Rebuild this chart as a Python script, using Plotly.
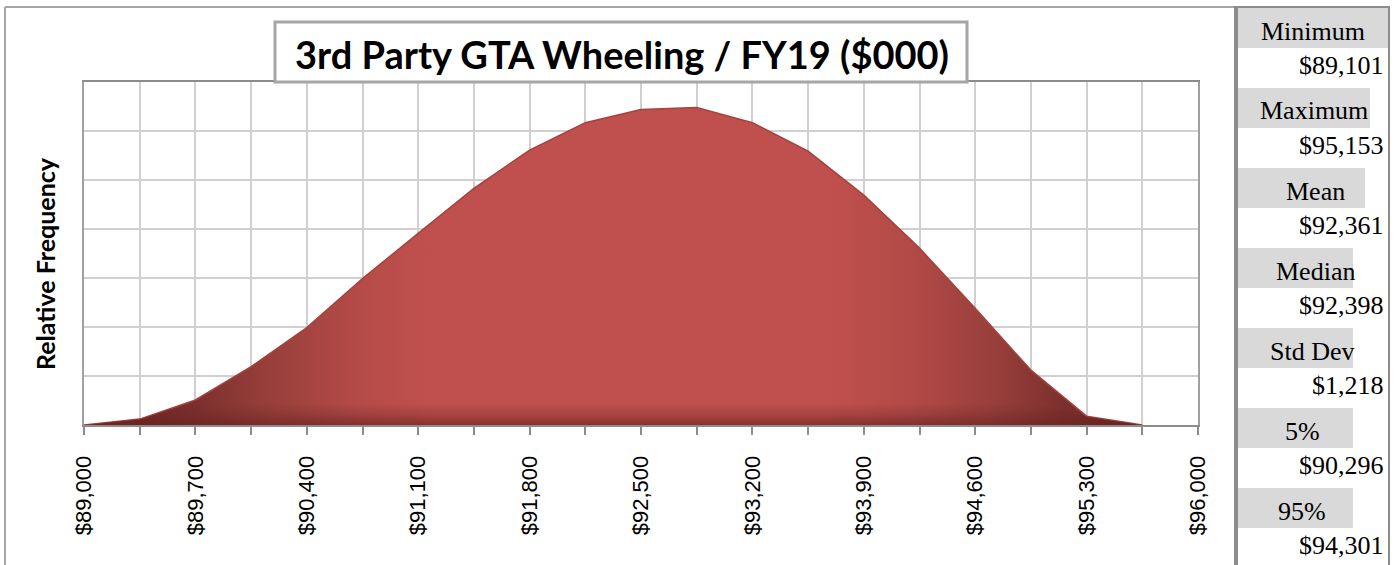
import plotly.graph_objects as go

# ---------------- data ----------------
bins = [89000, 89350, 89700, 90050, 90400, 90750, 91100, 91450, 91800, 92150,
        92500, 92850, 93200, 93550, 93900, 94250, 94600, 94950, 95300, 95650]
freq = [0.0000, 0.0012, 0.0051, 0.0119, 0.0199, 0.0299, 0.0391, 0.0483, 0.0561, 0.0617,
        0.0644, 0.0648, 0.0617, 0.0559, 0.0469, 0.0361, 0.0238, 0.0112, 0.0018, 0.0000]
tick_vals = [89000, 89700, 90400, 91100, 91800, 92500, 93200, 93900, 94600, 95300, 96000]
tick_text = ["$89,000", "$89,700", "$90,400", "$91,100", "$91,800", "$92,500",
             "$93,200", "$93,900", "$94,600", "$95,300", "$96,000"]
stat_labels = ["Minimum", "Maximum", "Mean", "Median", "Std Dev", "5%", "95%"]
stat_values = ["$89,101", "$95,153", "$92,361", "$92,398", "$1,218", "$90,296", "$94,301"]
title_text = "3rd Party GTA Wheeling / FY19 ($000)"
y_title = "Relative Frequency"

# ---------------- geometry ----------------
W, H = 1395, 565
PL, PR, PT, PB = 84, 1198, 82, 425


def X(px):
    return (px - PL) / (PR - PL)


def Y(py):
    return (PB - py) / (PB - PT)


fig = go.Figure()
# main area with darker tails (shading)
fig.add_trace(go.Scatter(
    x=bins, y=freq, mode="lines",
    line=dict(width=1.5, color="#a3423f", shape="linear"),
    fill="tozeroy",
    fillgradient=dict(type="horizontal", start=bins[0], stop=bins[-1],
                      colorscale=[[0, "#6a2422"], [0.1, "#7a2f2c"], [0.18, "#9a403c"],
                                  [0.26, "#b54b48"], [0.33, "#c0504d"], [0.7, "#c0504d"],
                                  [0.78, "#b34a47"], [0.86, "#983f3c"], [0.93, "#7a2f2c"],
                                  [1, "#6a2422"]]),
    hoverinfo="skip", showlegend=False,
))
# bottom shading band (same outline, clipped low)
shade_h = 0.0045
fig.add_trace(go.Scatter(
    x=bins, y=[min(f, shade_h) for f in freq], mode="lines",
    line=dict(width=0), fill="tozeroy",
    fillgradient=dict(type="vertical", start=0, stop=shade_h,
                      colorscale=[[0, "rgba(105,34,32,0.65)"], [0.5, "rgba(105,34,32,0.25)"],
                                  [1, "rgba(105,34,32,0)"]]),
    hoverinfo="skip", showlegend=False,
))

grid_c = "#d0d0d0"
axis_c = "#a0a0a0"

fig.update_xaxes(
    range=[89000, 96000], tickmode="array", tickvals=tick_vals, ticktext=tick_text,
    tickangle=-90, tickfont=dict(family="Liberation Sans, Arial", size=22, color="#000"),
    ticklabelstandoff=12,
    ticks="outside", ticklen=8, tickwidth=2, tickcolor="#8c8c8c",
    showgrid=True, gridcolor=grid_c, gridwidth=2,
    minor=dict(tickmode="linear", tick0=89000, dtick=350, ticks="outside", ticklen=8,
               tickwidth=2, tickcolor="#8c8c8c", showgrid=True, gridcolor=grid_c, gridwidth=2),
    showline=True, linecolor="#8c8c8c", linewidth=2, mirror=True,
    zeroline=False, fixedrange=True,
)
fig.update_yaxes(
    range=[0, 0.07], dtick=0.01, tick0=0, showticklabels=False, ticks="",
    showgrid=True, gridcolor=grid_c, gridwidth=2,
    showline=True, linecolor=axis_c, linewidth=2, mirror=True, zeroline=False,
)

shapes = []
annotations = []

# outer chart border
shapes.append(dict(type="line", xref="paper", yref="paper", x0=X(5), x1=X(5), y0=Y(7), y1=Y(570),
                   line=dict(color="#a6a6a6", width=2)))
shapes.append(dict(type="line", xref="paper", yref="paper", x0=X(5), x1=X(1236), y0=Y(7), y1=Y(7),
                   line=dict(color="#a6a6a6", width=2)))

# title box
shapes.append(dict(type="rect", xref="paper", yref="paper", x0=X(275), x1=X(967), y0=Y(22), y1=Y(82),
                   fillcolor="white", line=dict(color="#a6a6a6", width=3), layer="above"))
annotations.append(dict(text="<b>" + title_text + "</b>", xref="paper", yref="paper",
                        x=X(622), y=Y(54), showarrow=False, xanchor="center", yanchor="middle",
                        font=dict(family="Lato, Open Sans", size=38, color="#000")))

# y-axis title
annotations.append(dict(text="<b>" + y_title + "</b>", xref="paper", yref="paper",
                        x=X(45), y=Y(264), showarrow=False, textangle=-90,
                        xanchor="center", yanchor="middle",
                        font=dict(family="Lato, Open Sans", size=25, color="#000")))

# statistics panel
band_right = [1388, 1370, 1365, 1353, 1353, 1353, 1353]
label_cx = [1313, 1314, 1315, 1315, 1312, 1302, 1302]
for i, (lab, val) in enumerate(zip(stat_labels, stat_values)):
    top = 8 + 80 * i
    shapes.append(dict(type="rect", xref="paper", yref="paper", x0=X(1238), x1=X(band_right[i]),
                       y0=Y(top), y1=Y(top + 40), fillcolor="#d9d9d9", line=dict(width=0)))
    annotations.append(dict(text=lab, xref="paper", yref="paper", x=X(label_cx[i]), y=Y(top + 23),
                            showarrow=False, xanchor="center", yanchor="middle",
                            font=dict(family="Liberation Serif, Times New Roman", size=26, color="#000")))
    annotations.append(dict(text=val, xref="paper", yref="paper", x=X(1386), y=Y(top + 57),
                            showarrow=False, xanchor="right", yanchor="middle",
                            font=dict(family="Liberation Serif, Times New Roman", size=26, color="#000")))

# panel borders
shapes.append(dict(type="line", xref="paper", yref="paper", x0=X(1236), x1=X(1236), y0=Y(6), y1=Y(570),
                   line=dict(color="#8c8c8c", width=4)))
shapes.append(dict(type="line", xref="paper", yref="paper", x0=X(1389), x1=X(1389), y0=Y(7), y1=Y(570),
                   line=dict(color="#8c8c8c", width=2)))
shapes.append(dict(type="line", xref="paper", yref="paper", x0=X(1236), x1=X(1390), y0=Y(7), y1=Y(7),
                   line=dict(color="#8c8c8c", width=2)))

fig.update_layout(
    width=W, height=H,
    margin=dict(l=PL, r=W - PR, t=PT, b=H - PB, autoexpand=False),
    paper_bgcolor="white", plot_bgcolor="white",
    shapes=shapes, annotations=annotations, showlegend=False,
)

fig.write_html("out.html", config={"displayModeBar": False, "staticPlot": True},
               post_script="document.body.style.margin='0';document.body.style.overflow='hidden';")
